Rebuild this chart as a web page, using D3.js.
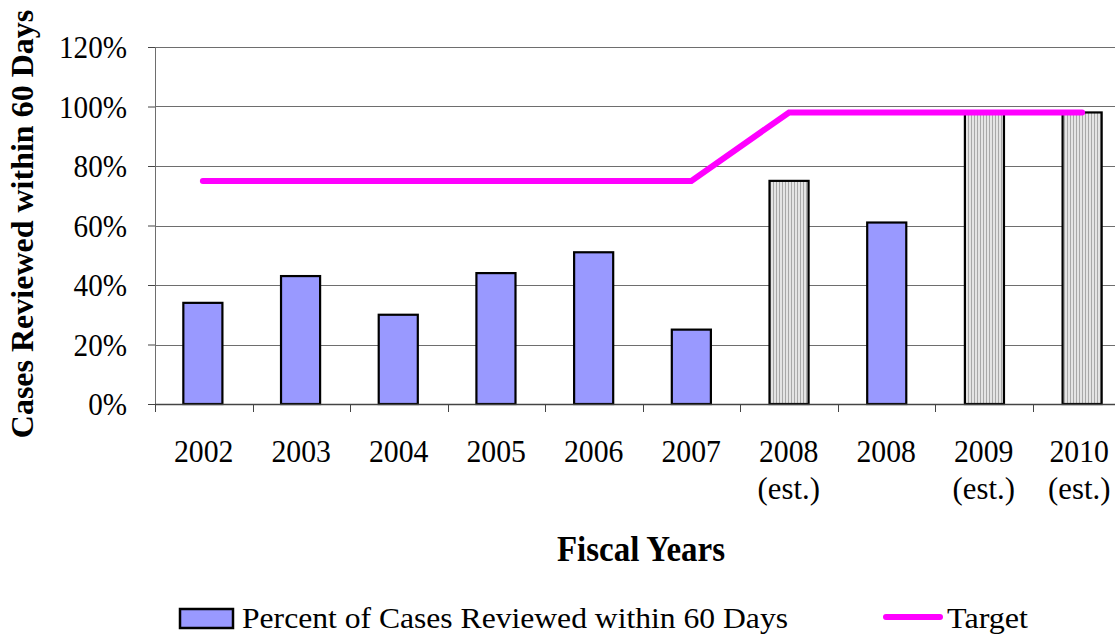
<!DOCTYPE html>
<html>
<head>
<meta charset="utf-8">
<script src="https://cdn.jsdelivr.net/npm/d3@7"></script>
<style>
  body { margin: 0; background: #fff; }
</style>
</head>
<body>
<svg id="chart" width="1115" height="634"></svg>
<script>
// chart data
var years = ["2002", "2003", "2004", "2005", "2006", "2007", "2008", "2008", "2009", "2010"];
var estimated = [false, false, false, false, false, false, true, false, true, true];
var percentReviewed = [34, 43, 30, 44, 51, 25, 75, 61, 98, 98];
var target = [75, 75, 75, 75, 75, 75, 98, 98, 98, 98];
var yTicks = [0, 20, 40, 60, 80, 100, 120];

var serif = "'Liberation Serif'";

var margin = {top: 47, left: 155},
    plotW = 975,
    plotH = 357;

var svg = d3.select("#chart");

// squeeze text horizontally (reference glyphs are a bit narrow)
function squeeze(sel, k) {
  sel.each(function() {
    var w = this.getComputedTextLength();
    d3.select(this)
      .attr("textLength", w * k)
      .attr("lengthAdjust", "spacingAndGlyphs");
  });
}

// stripe pattern for the estimated bars
var defs = svg.append("defs");
var pat = defs.append("pattern")
    .attr("id", "stripes")
    .attr("patternUnits", "userSpaceOnUse")
    .attr("width", 3)
    .attr("height", 10);
pat.append("rect").attr("width", 3).attr("height", 10).attr("fill", "#e4e4e4");
pat.append("rect").attr("width", 1).attr("height", 10).attr("fill", "#a8a8a8");

var idx = d3.range(years.length);

var x = d3.scaleBand()
    .domain(idx)
    .range([0, plotW])
    .paddingInner(0.6)
    .paddingOuter(0.29);

var xb = d3.scaleBand().domain(idx).range([0, plotW]);

var y = d3.scaleLinear()
    .domain([0, 120])
    .range([plotH, 0]);

var g = svg.append("g")
    .attr("transform", "translate(" + margin.left + "," + margin.top + ")");

// gridlines
g.append("g")
    .selectAll("line")
    .data(yTicks.slice(1))
    .join("line")
    .attr("x1", 0)
    .attr("x2", plotW)
    .attr("y1", function(d) { return Math.round(y(d)) + 0.5; })
    .attr("y2", function(d) { return Math.round(y(d)) + 0.5; })
    .attr("stroke", "#6e6e6e")
    .attr("stroke-width", 1);

// y axis
var yAxis = g.append("g")
    .call(d3.axisLeft(y).tickValues(yTicks).tickSize(7).tickPadding(21)
      .tickFormat(function(d) { return d + "%"; }));
yAxis.attr("font-family", null).attr("font-size", null);
yAxis.select(".domain").attr("stroke", "#6e6e6e").attr("d", "M0.5," + plotH + "V0");
yAxis.selectAll(".tick line").attr("stroke", "#444");
yAxis.selectAll("text")
    .style("font-family", serif)
    .style("font-size", "31px")
    .attr("fill", "#000")
    .attr("dy", "0.34em")
    .call(squeeze, 0.94);

// bars
g.append("g")
    .selectAll("rect")
    .data(idx)
    .join("rect")
    .attr("x", function(i) { return x(i); })
    .attr("y", function(i) { return y(percentReviewed[i]); })
    .attr("width", x.bandwidth())
    .attr("height", function(i) { return plotH - y(percentReviewed[i]); })
    .attr("fill", function(i) { return estimated[i] ? "url(#stripes)" : "#9999ff"; })
    .attr("stroke", "#000")
    .attr("stroke-width", 2.2);

// x axis
var xAxis = g.append("g")
    .attr("transform", "translate(0," + plotH + ")");
xAxis.append("line")
    .attr("x1", 0).attr("x2", plotW)
    .attr("y1", 0.5).attr("y2", 0.5)
    .attr("stroke", "#444").attr("stroke-width", 1.5);
xAxis.selectAll(".tk")
    .data(idx)
    .join("line")
    .attr("class", "tk")
    .attr("x1", function(i) { return Math.round(xb(i)) + 0.5; })
    .attr("x2", function(i) { return Math.round(xb(i)) + 0.5; })
    .attr("y1", 0).attr("y2", 8)
    .attr("stroke", "#444");

function mid(i) { return xb(i) + xb.bandwidth() / 2 - (i === years.length - 1 ? 2 : 0); }

xAxis.selectAll(".lbl")
    .data(idx)
    .join("text")
    .attr("class", "lbl")
    .attr("text-anchor", "middle")
    .style("font-family", serif)
    .style("font-size", "32px")
    .attr("x", mid)
    .attr("y", 58)
    .text(function(i) { return years[i]; })
    .call(squeeze, 0.93);

xAxis.selectAll(".est")
    .data(idx.filter(function(i) { return estimated[i]; }))
    .join("text")
    .attr("class", "est")
    .attr("text-anchor", "middle")
    .style("font-family", serif)
    .style("font-size", "32px")
    .attr("x", mid)
    .attr("y", 95)
    .text("(est.)")
    .call(squeeze, 0.96);

// target line
var line = d3.line()
    .x(function(d, i) { return x(i) + x.bandwidth() / 2; })
    .y(function(d) { return y(d); });
g.append("path")
    .datum(target)
    .attr("d", line)
    .attr("fill", "none")
    .attr("stroke", "#ff00ff")
    .attr("stroke-width", 6)
    .attr("stroke-linecap", "round");

// axis titles
svg.append("text")
    .attr("transform", "translate(33,224) rotate(-90)")
    .attr("text-anchor", "middle")
    .style("font-family", serif)
    .style("font-size", "32px")
    .style("font-weight", "bold")
    .text("Cases Reviewed within 60 Days");

svg.append("text")
    .attr("x", 641)
    .attr("y", 561)
    .attr("text-anchor", "middle")
    .style("font-family", serif)
    .style("font-size", "35px")
    .style("font-weight", "bold")
    .text("Fiscal Years")
    .attr("textLength", 168)
    .attr("lengthAdjust", "spacingAndGlyphs");

// legend
var leg = svg.append("g");
leg.append("rect")
    .attr("x", 180).attr("y", 609)
    .attr("width", 53).attr("height", 19)
    .attr("fill", "#9999ff")
    .attr("stroke", "#000").attr("stroke-width", 2.5);
leg.append("text")
    .attr("x", 242).attr("y", 628)
    .style("font-family", serif)
    .style("font-size", "30px")
    .text("Percent of Cases Reviewed within 60 Days")
    .attr("textLength", 546)
    .attr("lengthAdjust", "spacingAndGlyphs");
leg.append("line")
    .attr("x1", 886).attr("x2", 940)
    .attr("y1", 617).attr("y2", 617)
    .attr("stroke", "#ff00ff").attr("stroke-width", 6)
    .attr("stroke-linecap", "round");
leg.append("text")
    .attr("x", 947).attr("y", 628)
    .style("font-family", serif)
    .style("font-size", "30px")
    .text("Target")
    .attr("textLength", 81)
    .attr("lengthAdjust", "spacingAndGlyphs");
</script>
</body>
</html>
